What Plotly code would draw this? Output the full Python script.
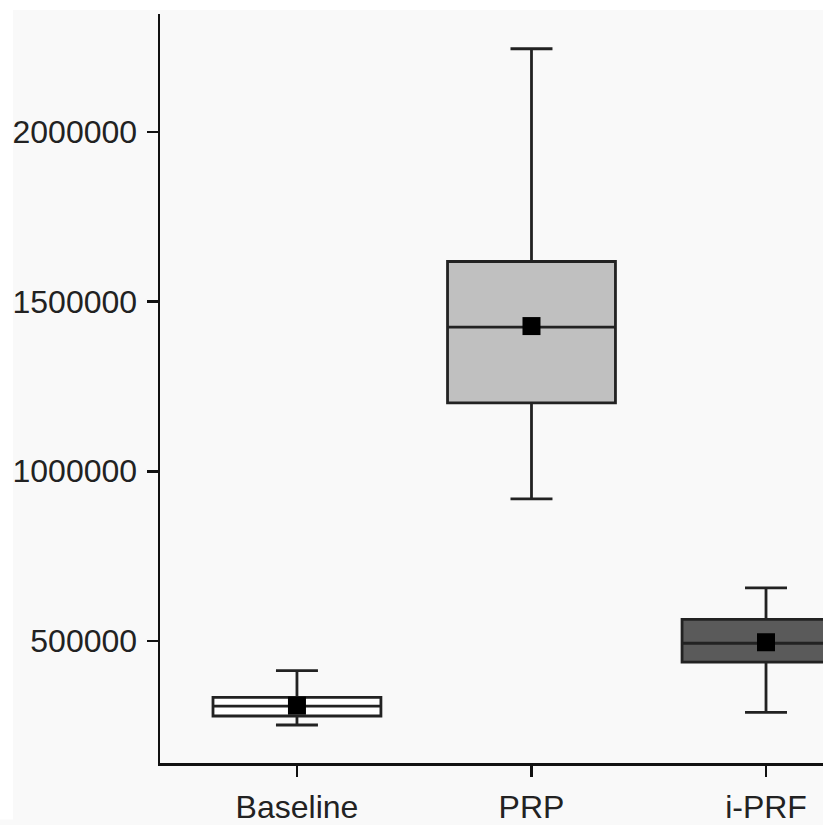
import plotly.graph_objects as go

categories = ["Baseline", "PRP", "i-PRF"]
lower_whisker = [252000, 918600, 289200]
q1_values = [278400, 1201400, 437400]
median_values = [307700, 1425100, 493000]
q3_values = [333100, 1618300, 563200]
upper_whisker = [412200, 2245600, 656000]
mean_values = [309000, 1428000, 495900]
fill_colors = ["#ffffff", "#c0c0c0", "#5a5a5a"]

y_tick_values = [500000, 1000000, 1500000, 2000000]
y_tick_labels = ["500000", "1000000", "1500000", "2000000"]

W, H = 823, 825
ML, MR, MT, MB = 160, 0, 14, 57
PW, PH = W - ML - MR, H - MT - MB

fig = go.Figure()
for i, cat in enumerate(categories):
    fig.add_trace(go.Box(
        x=[cat],
        q1=[q1_values[i]], median=[median_values[i]], q3=[q3_values[i]],
        lowerfence=[lower_whisker[i]], upperfence=[upper_whisker[i]],
        fillcolor=fill_colors[i],
        line=dict(color="#222222", width=2.8),
        width=0.716, whiskerwidth=0.25,
        boxpoints=False, showlegend=False, hoverinfo="skip",
    ))

fig.add_trace(go.Scatter(
    x=categories, y=mean_values, mode="markers",
    marker=dict(symbol="square", size=18, color="#000000", line=dict(width=0)),
    showlegend=False, hoverinfo="skip",
))

def px_to_paper_x(px):
    return (px - ML) / PW

def px_to_paper_y(py):
    return (H - MB - py) / PH

# white strips at top and left edges
fig.add_shape(type="rect", xref="paper", yref="paper",
              x0=px_to_paper_x(0), x1=px_to_paper_x(13),
              y0=px_to_paper_y(H), y1=px_to_paper_y(0),
              fillcolor="#ffffff", line=dict(width=0), layer="above")
fig.add_shape(type="rect", xref="paper", yref="paper",
              x0=px_to_paper_x(0), x1=px_to_paper_x(W),
              y0=px_to_paper_y(10), y1=px_to_paper_y(0),
              fillcolor="#ffffff", line=dict(width=0), layer="above")

font_family = "Liberation Sans, Arial, sans-serif"
fig.update_layout(
    width=W, height=H,
    margin=dict(l=ML, r=MR, t=MT, b=MB, pad=0),
    paper_bgcolor="#f9f9f9", plot_bgcolor="#f9f9f9",
    boxmode="overlay",
    font=dict(family=font_family, size=32, color="#222222"),
    xaxis=dict(
        type="category", categoryorder="array", categoryarray=categories,
        range=[-0.584, 2.243],
        showgrid=False, zeroline=False,
        showline=True, linecolor="#111111", linewidth=2.5,
        ticks="outside", ticklen=11, tickwidth=2.5, tickcolor="#111111",
        tickfont=dict(size=32, color="#222222", family=font_family),
        ticklabelstandoff=3,
    ),
    yaxis=dict(
        range=[139900, 2348000],
        tickvals=y_tick_values, ticktext=y_tick_labels,
        showgrid=False, zeroline=False,
        showline=True, linecolor="#111111", linewidth=2.5,
        ticks="outside", ticklen=11, tickwidth=2.5, tickcolor="#111111",
        tickfont=dict(size=32, color="#222222", family=font_family),
        ticklabelstandoff=3,
    ),
)

fig.write_html(
    "out.html",
    config={"displayModeBar": False, "staticPlot": True},
    post_script="document.body.style.margin='0';document.body.style.overflow='hidden';",
)
